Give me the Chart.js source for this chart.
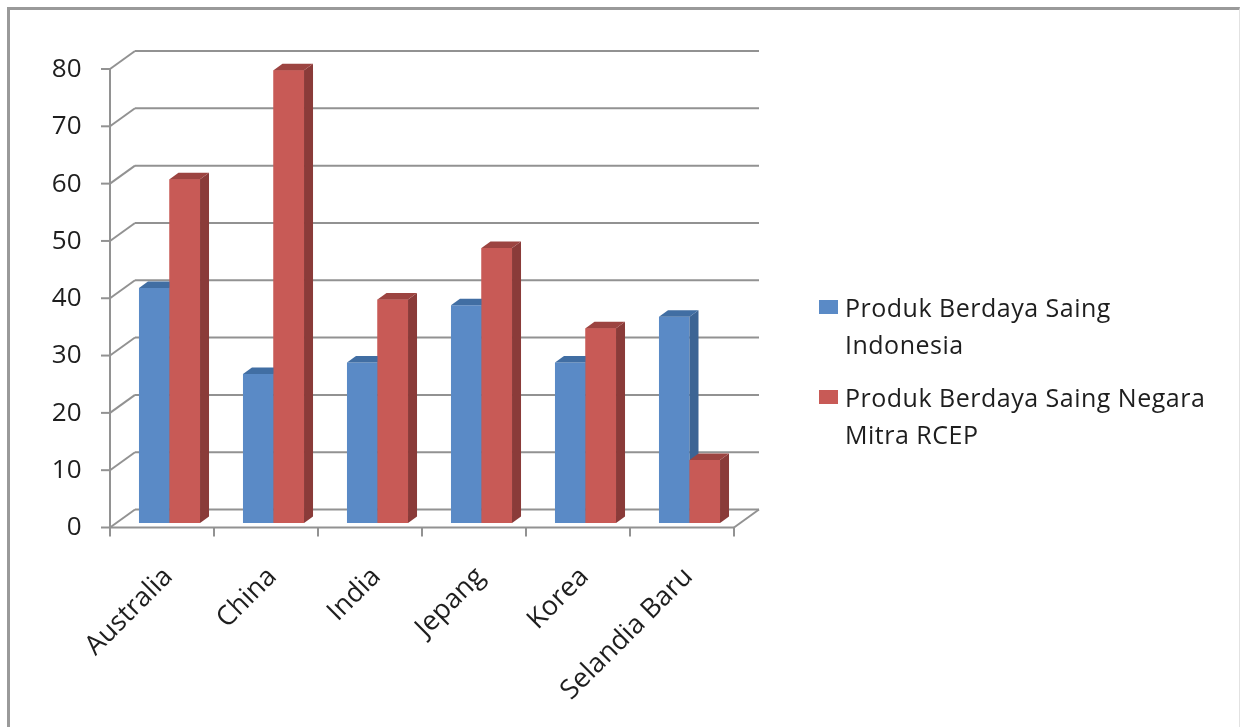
<!DOCTYPE html>
<html>
<head>
<meta charset="utf-8">
<script src="https://cdn.jsdelivr.net/npm/chart.js@4.4.1/dist/chart.umd.min.js"></script>
<style>
  html, body { margin: 0; padding: 0; background: #fff; }
  #wrap { position: relative; width: 1240px; height: 727px; overflow: hidden; }
  #frame {
    position: absolute; left: 7px; top: 7px; width: 1229px; height: 760px;
    border-left: 3px solid #9a9a9a; border-top: 3px solid #9a9a9a; border-right: 1px solid #e2e2e2;
  }
  canvas { position: absolute; left: 0; top: 0; }
  .legend { position: absolute; left: 819px; font-family: 'Open Sans', sans-serif; font-size: 25px;
    letter-spacing: 0.5px; line-height: 37px; color: #1e1e1e; }
  .legend .row { position: relative; padding-left: 26px; }
  .legend .swatch { position: absolute; left: 0; top: 11px; width: 19px; height: 14px; }
</style>
</head>
<body>
<div id="wrap">
  <div id="frame"></div>
  <canvas id="chart" width="1240" height="727"></canvas>
  <div class="legend" id="legend"></div>
</div>
<script>
const categories = ['Australia', 'China', 'India', 'Jepang', 'Korea', 'Selandia Baru'];
const seriesNames = [
  ['Produk Berdaya Saing', 'Indonesia'],
  ['Produk Berdaya Saing Negara', 'Mitra RCEP'],
];
const indonesiaValues = [41, 26, 28, 38, 28, 36];
const rcepValues = [60, 79, 39, 48, 34, 11];
const yMax = 80;
const yStep = 10;

// colours: front, side, top
const faces = [
  { front: '#5a8ac6', side: '#3c6494', top: '#416ea3' },
  { front: '#c85a56', side: '#8a3b39', top: '#9c4441' },
];

// 3d offsets relative to the bar plane
const FRONT = { dx: -7.5, dy: 4.5 };
const BACK = { dx: 17.5, dy: -13.5 };
const BAR_DEPTH = { dx: 9, dy: -6.5 };
const LINE = '#929292';

Chart.defaults.font.family = "'Open Sans', sans-serif";
Chart.defaults.font.size = 26;
Chart.defaults.color = '#1e1e1e';

function line(ctx, x1, y1, x2, y2) {
  ctx.beginPath();
  ctx.moveTo(x1, y1);
  ctx.lineTo(x2, y2);
  ctx.stroke();
}

function drawFaces(ctx, bar, col) {
  const { x, y, base, width } = bar.getProps(['x', 'y', 'base', 'width'], true);
  const l = x - width / 2;
  const r = x + width / 2;
  ctx.fillStyle = col.side;
  ctx.beginPath();
  ctx.moveTo(r, y);
  ctx.lineTo(r + BAR_DEPTH.dx, y + BAR_DEPTH.dy);
  ctx.lineTo(r + BAR_DEPTH.dx, base + BAR_DEPTH.dy);
  ctx.lineTo(r, base);
  ctx.closePath();
  ctx.fill();
  ctx.fillStyle = col.top;
  ctx.beginPath();
  ctx.moveTo(l, y);
  ctx.lineTo(l + BAR_DEPTH.dx, y + BAR_DEPTH.dy);
  ctx.lineTo(r + BAR_DEPTH.dx, y + BAR_DEPTH.dy);
  ctx.lineTo(r, y);
  ctx.closePath();
  ctx.fill();
}

const depth3d = {
  id: 'depth3d',
  beforeDatasetsDraw(chart) {
    const { ctx, chartArea: a, scales } = chart;
    const ys = scales.y;
    const xs = scales.x;
    ctx.save();
    ctx.strokeStyle = LINE;
    ctx.lineWidth = 2;
    ys.ticks.forEach((t) => {
      const yb = ys.getPixelForValue(t.value);
      line(ctx, a.left + BACK.dx, yb + BACK.dy, a.right + BACK.dx, yb + BACK.dy);
      line(ctx, a.left + FRONT.dx, yb + FRONT.dy, a.left + BACK.dx, yb + BACK.dy);
      line(ctx, a.left + FRONT.dx - 9, yb + FRONT.dy, a.left + FRONT.dx, yb + FRONT.dy);
    });
    const fx = a.left + FRONT.dx;
    line(ctx, fx, a.top + FRONT.dy, fx, a.bottom + FRONT.dy);
    line(ctx, fx, a.bottom + FRONT.dy, a.right + FRONT.dx, a.bottom + FRONT.dy);
    line(ctx, a.right + FRONT.dx, a.bottom + FRONT.dy, a.right + BACK.dx, a.bottom + BACK.dy);
    for (let i = 0; i <= categories.length; i++) {
      const px = xs.getPixelForValue(i - 0.5) + FRONT.dx;
      line(ctx, px, a.bottom + FRONT.dy, px, a.bottom + FRONT.dy + 9);
    }
    ctx.restore();
  },
  afterDatasetsDraw(chart) {
    const ctx = chart.ctx;
    ctx.save();
    chart.data.datasets.forEach((ds, i) => {
      const meta = chart.getDatasetMeta(i);
      meta.data.forEach((bar) => {
        if (i > 0) bar.draw(ctx);
        drawFaces(ctx, bar, faces[i]);
      });
    });
    ctx.restore();
  },
};

new Chart(document.getElementById('chart'), {
  type: 'bar',
  data: {
    labels: categories,
    datasets: [
      { label: seriesNames[0].join(' '), data: indonesiaValues, backgroundColor: faces[0].front },
      { label: seriesNames[1].join(' '), data: rcepValues, backgroundColor: faces[1].front },
    ],
  },
  options: {
    responsive: false,
    animation: false,
    layout: { padding: { left: 0, top: 64.5, right: 498.5, bottom: 0 } },
    datasets: {
      bar: { categoryPercentage: 0.587, barPercentage: 1, borderWidth: 0 },
    },
    plugins: { legend: { display: false }, tooltip: { enabled: false } },
    scales: {
      x: {
        grid: { display: false, drawTicks: false },
        border: { display: false },
        ticks: { autoSkip: false, minRotation: 45, maxRotation: 45, padding: 38, labelOffset: -1, font: { size: 27 } },
        afterFit: (s) => { s.height = 204; },
      },
      y: {
        min: 0,
        max: yMax,
        grid: { display: false, drawTicks: false },
        border: { display: false },
        ticks: { stepSize: yStep, padding: 36, labelOffset: 5 },
        afterFit: (s) => { s.width = 117.5; },
      },
    },
  },
  plugins: [depth3d],
});

// html legend
const legend = document.getElementById('legend');
const tops = [288.5, 378.5];
seriesNames.forEach((lines, i) => {
  const row = document.createElement('div');
  row.className = 'row';
  row.style.position = 'absolute';
  row.style.top = tops[i] + 'px';
  row.style.whiteSpace = 'nowrap';
  row.innerHTML = `<span class="swatch" style="background:${faces[i].front}"></span>${lines.join('<br>')}`;
  legend.appendChild(row);
});
</script>
</body>
</html>
